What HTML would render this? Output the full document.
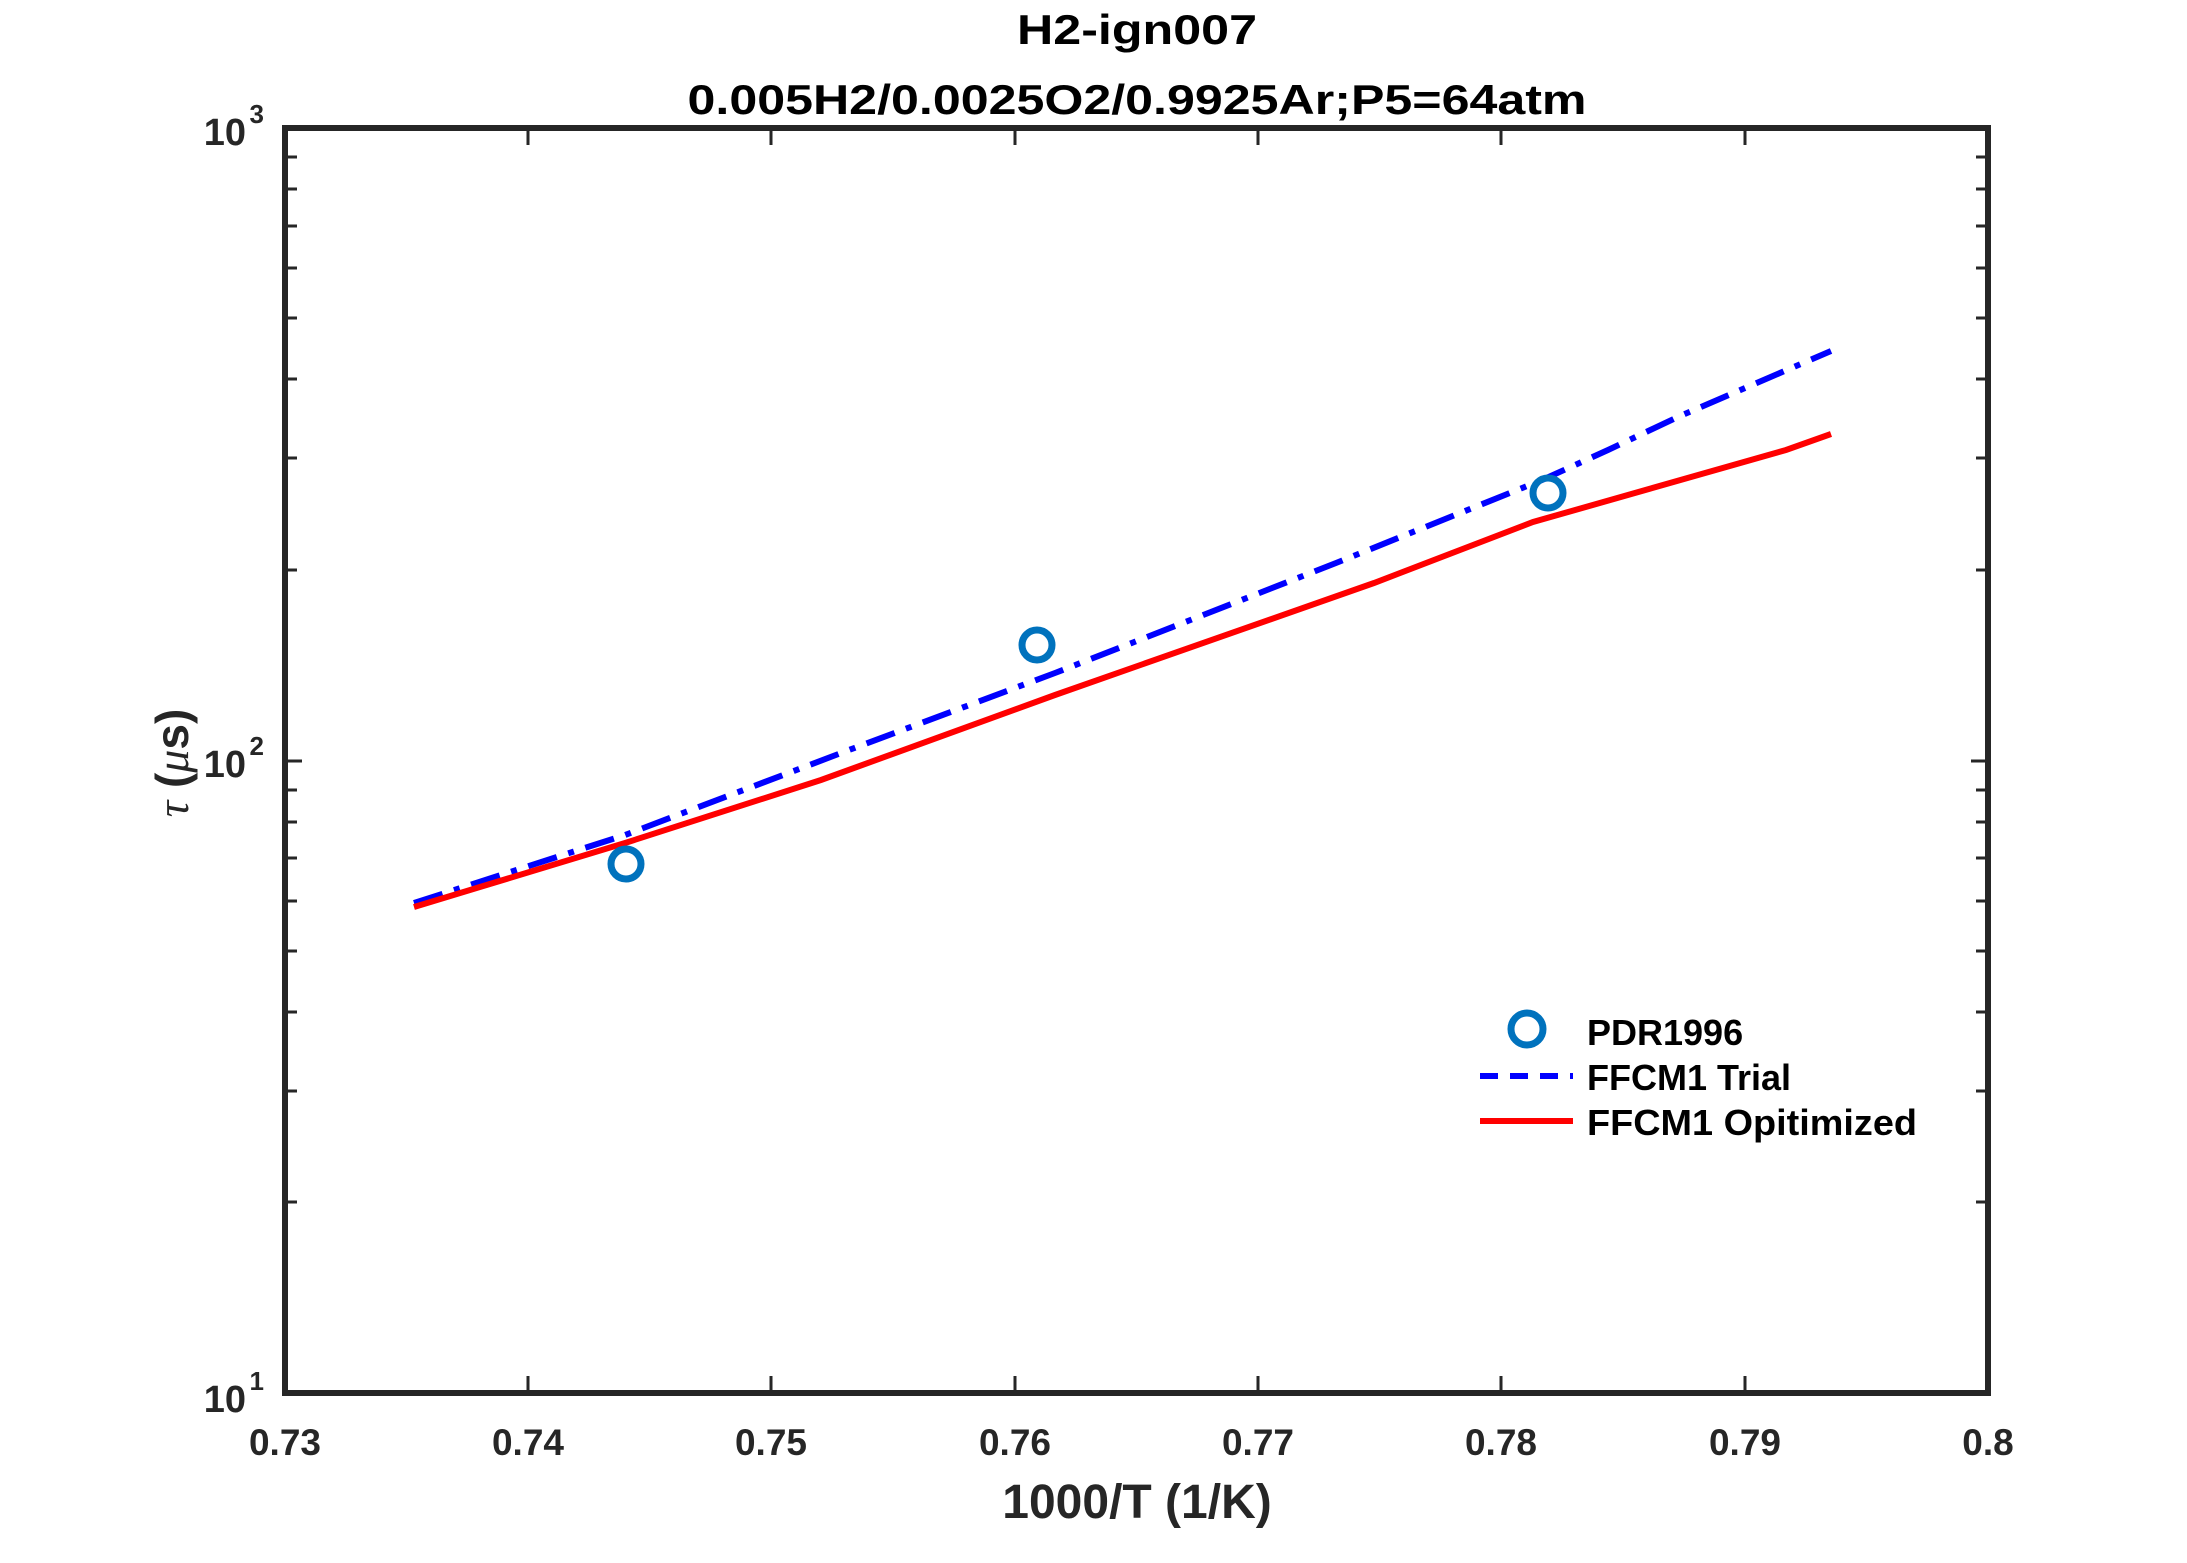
<!DOCTYPE html>
<html><head><meta charset="utf-8"><style>body{margin:0;background:#fff}svg{display:block}</style></head>
<body>
<svg width="2187" height="1563" viewBox="0 0 2187 1563" xmlns="http://www.w3.org/2000/svg" font-family="Liberation Sans, sans-serif" font-weight="bold">
<rect width="2187" height="1563" fill="#fff"/>
<text x="1137" y="44" font-size="42" text-anchor="middle" fill="#000" textLength="240" lengthAdjust="spacingAndGlyphs">H2-ign007</text>
<text x="1137" y="114" font-size="42" text-anchor="middle" fill="#000" textLength="899" lengthAdjust="spacingAndGlyphs">0.005H2/0.0025O2/0.9925Ar;P5=64atm</text>
<g stroke="#262626" stroke-width="3" fill="none">
<path d="M528,1393v-17M771,1393v-17M1015,1393v-17M1258,1393v-17M1501,1393v-17M1745,1393v-17"/>
<path d="M528,128v17M771,128v17M1015,128v17M1258,128v17M1501,128v17M1745,128v17"/>
<path d="M285,1202h12M285,1091h12M285,1012h12M285,951h12M285,901h12M285,858h12M285,822h12M285,790h12M285,761h17M285,570h12M285,458h12M285,379h12M285,318h12M285,268h12M285,226h12M285,189h12M285,157h12"/>
<path d="M1988,1202h-12M1988,1091h-12M1988,1012h-12M1988,951h-12M1988,901h-12M1988,858h-12M1988,822h-12M1988,790h-12M1988,761h-17M1988,570h-12M1988,458h-12M1988,379h-12M1988,318h-12M1988,268h-12M1988,226h-12M1988,189h-12M1988,157h-12"/>
<rect x="285" y="128" width="1703" height="1265" stroke-width="6"/>
</g>
<g font-size="37" fill="#262626" text-anchor="middle">
<text x="285" y="1455">0.73</text><text x="528" y="1455">0.74</text><text x="771" y="1455">0.75</text><text x="1015" y="1455">0.76</text><text x="1258" y="1455">0.77</text><text x="1501" y="1455">0.78</text><text x="1745" y="1455">0.79</text><text x="1988" y="1455">0.8</text>
</g>
<g font-size="38" fill="#262626" text-anchor="end">
<text x="246" y="1412">10</text><text x="264" y="1390" font-size="26">1</text>
<text x="246" y="777">10</text><text x="264" y="755" font-size="26">2</text>
<text x="246" y="145">10</text><text x="264" y="123" font-size="26">3</text>
</g>
<text x="1137" y="1518" font-size="48" text-anchor="middle" fill="#262626">1000/T (1/K)</text>
<text transform="translate(188,763) rotate(-90)" font-size="46" text-anchor="middle" fill="#262626"><tspan font-style="italic" font-family="Liberation Serif, serif" font-weight="normal">τ</tspan> (<tspan font-style="italic" font-family="Liberation Serif, serif" font-weight="normal">μ</tspan>s)</text>
<polyline fill="none" stroke="#0000ff" stroke-width="6" stroke-dasharray="30,12,6,12" points="414,903 625,835 849,750 1055,673 1336,563 1542,480 1608,450 1680,416 1831,351"/>
<polyline fill="none" stroke="#ff0000" stroke-width="6" points="414,907 625,843 821,780 1055,695 1374,583 1533,522 1786,450 1831,434"/>
<g fill="none" stroke="#0072bd" stroke-width="7">
<circle cx="626" cy="864" r="15"/><circle cx="1037" cy="645" r="15"/><circle cx="1548" cy="493" r="15"/>
<circle cx="1527" cy="1029" r="16"/>
</g>
<line x1="1480" y1="1076" x2="1573" y2="1076" stroke="#0000ff" stroke-width="6" stroke-dasharray="18,12"/>
<line x1="1480" y1="1121" x2="1573" y2="1121" stroke="#ff0000" stroke-width="6"/>
<g font-size="36" fill="#000">
<text x="1587" y="1045">PDR1996</text>
<text x="1587" y="1090">FFCM1 Trial</text>
<text x="1587" y="1135" textLength="330" lengthAdjust="spacingAndGlyphs">FFCM1 Opitimized</text>
</g>
</svg>
</body></html>
